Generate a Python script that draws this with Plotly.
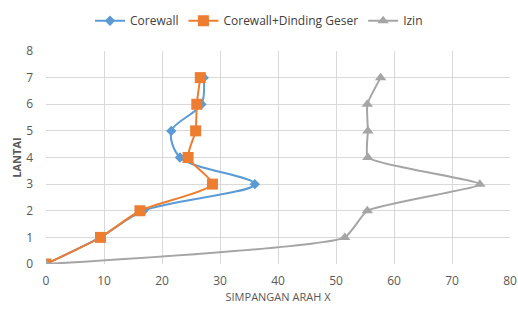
import plotly.graph_objects as go

lantai = [0, 1, 2, 3, 4, 5, 6, 7]
corewall = [0, 9.3, 16.8, 36.0, 23.1, 21.6, 26.8, 27.2]
corewall_dg = [0, 9.4, 16.2, 28.7, 24.5, 25.8, 26.0, 26.6]
izin = [0, 51.5, 55.4, 74.8, 55.5, 55.5, 55.4, 57.7]

fig = go.Figure()
fig.add_trace(go.Scatter(x=corewall, y=lantai, name="Corewall", mode="lines+markers",
                         line=dict(color="#5B9BD5", width=2, shape="spline", smoothing=0.9),
                         marker=dict(symbol="diamond", size=8, color="#5B9BD5")))
fig.add_trace(go.Scatter(x=corewall_dg, y=lantai, name="Corewall+Dinding Geser", mode="lines+markers",
                         line=dict(color="#ED7D31", width=2, shape="spline", smoothing=0.6),
                         marker=dict(symbol="square", size=11, color="#ED7D31")))
fig.add_trace(go.Scatter(x=izin, y=lantai, name="Izin", mode="lines+markers",
                         line=dict(color="#A5A5A5", width=2, shape="spline", smoothing=0.45),
                         marker=dict(symbol="triangle-up", size=10, color="#A5A5A5")))

fig.update_layout(
    width=518, height=309,
    margin=dict(l=46, r=8, t=51, b=45),
    paper_bgcolor="white", plot_bgcolor="white",
    font=dict(family="Open Sans, sans-serif", size=12, color="#595959"),
    legend=dict(orientation="h", x=0.5, xanchor="center", xref="container",
                y=0.98, yanchor="top", yref="container",
                font=dict(size=12, color="#404040"),
                itemwidth=30, tracegroupgap=0),
    showlegend=True,
)
fig.update_xaxes(range=[0, 80], dtick=10, showgrid=True, gridcolor="#D9D9D9", gridwidth=1,
                 zeroline=False, showline=False, ticks="", automargin=False,
                 ticklabelstandoff=8,
                 title=dict(text="SIMPANGAN ARAH X", font=dict(size=11, color="#595959"), standoff=4))
fig.update_yaxes(range=[0, 8], dtick=1, showgrid=True, gridcolor="#D9D9D9", gridwidth=1,
                 zeroline=False, showline=False, ticks="", automargin=False,
                 ticklabelstandoff=12,
                 title=dict(text="<b>LANTAI</b>", font=dict(size=11, color="#595959"), standoff=2))

fig.write_html("out.html", config={"displayModeBar": False},
               post_script="document.body.style.margin='0';document.body.style.overflow='hidden';")
